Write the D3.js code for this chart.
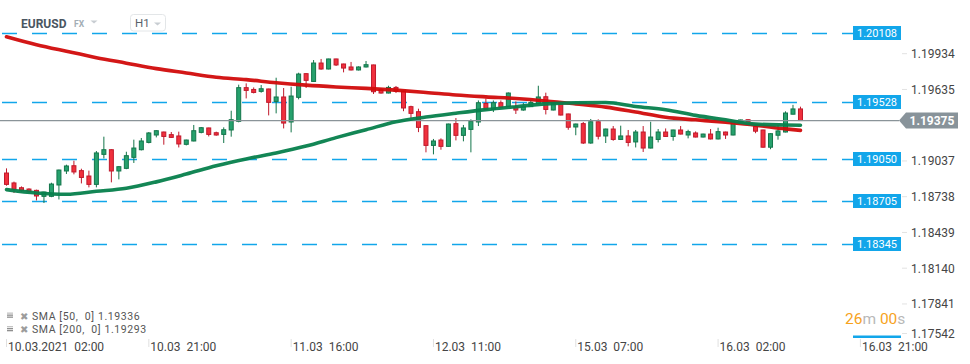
<!DOCTYPE html>
<html><head><meta charset="utf-8">
<script src="https://cdn.jsdelivr.net/npm/d3@7"></script>
<style>html,body{margin:0;padding:0;background:#fff;overflow:hidden}svg{display:block;font-family:Roboto,"Noto Sans",Arial,sans-serif}</style>
</head><body><svg id="c" width="970" height="364"></svg>
<script>
// ---- data (EURUSD H1) ----
const candleOpen = [1.18936,1.18853,1.18813,1.18802,1.18791,1.18741,1.18741,1.18836,1.18953,1.18997,
1.18956,1.18911,1.18841,1.19092,1.19131,1.18953,1.18975,1.19067,1.19131,1.19192,
1.19254,1.19279,1.19257,1.19246,1.19176,1.19204,1.19276,1.19313,1.19273,1.19259,
1.19296,1.19368,1.19650,1.19635,1.19619,1.19639,1.19535,1.19572,1.19363,1.19569,
1.19767,1.19702,1.19856,1.19806,1.19890,1.19848,1.19823,1.19798,1.19823,1.19840,
1.19635,1.19605,1.19652,1.19622,1.19491,1.19449,1.19332,1.19167,1.19212,1.19159,
1.19349,1.19251,1.19301,1.19363,1.19518,1.19468,1.19524,1.19493,1.19491,1.19463,
1.19491,1.19516,1.19574,1.19463,1.19527,1.19430,1.19321,1.19349,1.19187,1.19365,
1.19246,1.19304,1.19217,1.19246,1.19196,1.19279,1.19145,1.19217,1.19279,1.19242,
1.19296,1.19254,1.19271,1.19237,1.19262,1.19221,1.19279,1.19254,1.19368,1.19382,
1.19324,1.19296,1.19152,1.19252,1.19279,1.19428,1.19472];
const candleHigh = [1.18975,1.18864,1.18824,1.18808,1.18797,1.18780,1.18855,1.18964,1.19006,1.19039,
1.18972,1.18956,1.19120,1.19240,1.19135,1.18993,1.19114,1.19215,1.19229,1.19279,
1.19294,1.19282,1.19279,1.19282,1.19215,1.19338,1.19321,1.19315,1.19282,1.19318,
1.19457,1.19675,1.19686,1.19652,1.19672,1.19641,1.19733,1.19647,1.19658,1.19775,
1.19771,1.19881,1.19890,1.19892,1.19892,1.19850,1.19865,1.19828,1.19873,1.19842,
1.19647,1.19666,1.19664,1.19625,1.19499,1.19474,1.19336,1.19221,1.19226,1.19349,
1.19396,1.19338,1.19385,1.19543,1.19560,1.19543,1.19543,1.19610,1.19535,1.19522,
1.19547,1.19666,1.19608,1.19522,1.19530,1.19432,1.19349,1.19363,1.19388,1.19385,
1.19307,1.19329,1.19332,1.19296,1.19296,1.19329,1.19365,1.19304,1.19309,1.19298,
1.19329,1.19298,1.19284,1.19265,1.19304,1.19315,1.19282,1.19368,1.19382,1.19385,
1.19326,1.19298,1.19268,1.19336,1.19452,1.19506,1.19491];
const candleLow = [1.18830,1.18769,1.18780,1.18772,1.18707,1.18685,1.18734,1.18715,1.18928,1.18925,
1.18849,1.18816,1.18816,1.19058,1.18858,1.18883,1.18968,1.19020,1.19125,1.19184,
1.19234,1.19173,1.19229,1.19150,1.19167,1.19201,1.19268,1.19242,1.19248,1.19187,
1.19240,1.19360,1.19560,1.19602,1.19608,1.19418,1.19435,1.19309,1.19276,1.19552,
1.19647,1.19700,1.19800,1.19803,1.19831,1.19778,1.19794,1.19794,1.19819,1.19597,
1.19600,1.19602,1.19605,1.19453,1.19396,1.19278,1.19109,1.19092,1.19131,1.19156,
1.19209,1.19201,1.19109,1.19329,1.19463,1.19446,1.19482,1.19491,1.19430,1.19457,
1.19488,1.19513,1.19426,1.19460,1.19418,1.19298,1.19252,1.19179,1.19181,1.19217,
1.19187,1.19206,1.19212,1.19159,1.19150,1.19112,1.19142,1.19192,1.19240,1.19206,
1.19259,1.19226,1.19234,1.19234,1.19217,1.19217,1.19221,1.19251,1.19365,1.19363,
1.19269,1.19148,1.19135,1.19215,1.19276,1.19426,1.19371];
const candleClose = [1.18841,1.18799,1.18791,1.18780,1.18744,1.18777,1.18844,1.18961,1.18995,1.18945,
1.18899,1.18841,1.19104,1.19131,1.18953,1.18989,1.19081,1.19145,1.19204,1.19271,
1.19290,1.19242,1.19234,1.19179,1.19212,1.19290,1.19315,1.19259,1.19254,1.19298,
1.19382,1.19650,1.19627,1.19610,1.19641,1.19527,1.19572,1.19354,1.19580,1.19764,
1.19711,1.19856,1.19806,1.19890,1.19840,1.19814,1.19798,1.19823,1.19842,1.19616,
1.19605,1.19652,1.19619,1.19480,1.19435,1.19318,1.19167,1.19204,1.19159,1.19346,
1.19251,1.19313,1.19368,1.19524,1.19468,1.19524,1.19485,1.19605,1.19463,1.19491,
1.19527,1.19572,1.19468,1.19518,1.19421,1.19319,1.19346,1.19187,1.19365,1.19244,
1.19304,1.19217,1.19246,1.19192,1.19279,1.19145,1.19237,1.19279,1.19242,1.19296,
1.19262,1.19282,1.19237,1.19262,1.19221,1.19282,1.19254,1.19365,1.19380,1.19365,
1.19286,1.19152,1.19265,1.19288,1.19438,1.19472,1.19375];

const smaIndex = [0,4,8,12,16,20,24,28,32,36,40,44,48,52,56,60,64,68,72,76,80,84,88,92,96,100,104,106];
const sma200 = [1.20076,1.20009,1.19954,1.19901,1.19855,1.19809,1.19773,1.19737,1.19717,1.19691,1.19671,1.19656,1.19644,1.19629,1.19610,1.19589,1.19573,1.19559,1.19539,1.19514,1.19487,1.19446,1.19402,1.19381,1.19360,1.19336,1.19305,1.19293];
const sma50 = [1.18797,1.18769,1.18758,1.18783,1.18809,1.18862,1.18927,1.18996,1.19054,1.19104,1.19162,1.19232,1.19298,1.19365,1.19404,1.19436,1.19466,1.19491,1.19514,1.19524,1.19526,1.19492,1.19466,1.19418,1.19381,1.19345,1.19338,1.19336];

const levelValues = [1.20108,1.19528,1.19050,1.18705,1.18345];
const lastPrice = 1.19375;
const yTickValues = [1.19934,1.19635,1.19336,1.19037,1.18738,1.18439,1.18140,1.17841,1.17542];
const xTickIndex = [0,19,38,57,76,95,114];
const xTickLabels = ["10.03.2021  02:00","10.03  21:00","11.03  16:00","12.03  11:00","15.03  07:00","16.03  02:00","16.03  21:00"];
const legendLabels = ["SMA [50,  0] 1.19336","SMA [200,  0] 1.19293"];

// ---- drawing ----
const svg = d3.select("#c");
const x = d3.scaleLinear().domain([0,114]).range([6.5,860.4]);
const y = d3.scaleLinear().domain([1.19934,1.17542]).range([53.7,339.7]);
const BLUE = "#12a6ea";

// level lines
const lv = svg.append("g");
levelValues.forEach(v => {
  const yy = Math.round(y(v)) + 0.5;
  lv.append("line").attr("x1",2).attr("x2",853).attr("y1",yy).attr("y2",yy)
    .attr("stroke",BLUE).attr("stroke-width",1.3).attr("stroke-dasharray","15,15");
});

// candles
const candles = d3.range(candleOpen.length).map(i => ({i,o:candleOpen[i],h:candleHigh[i],l:candleLow[i],c:candleClose[i]}));
const cg = svg.append("g");
candles.forEach(d => {
  const up = d.c >= d.o;
  const stroke = up ? "#13754a" : "#c0192b";
  const fill = up ? "#26a16d" : "#f0303d";
  const cx = x(d.i);
  cg.append("line").attr("x1",cx).attr("x2",cx).attr("y1",y(d.h)).attr("y2",y(d.l)).attr("stroke",stroke).attr("stroke-width",1);
  const top = y(Math.max(d.o,d.c)), bot = y(Math.min(d.o,d.c));
  cg.append("rect").attr("x",cx-2).attr("width",4).attr("y",top).attr("height",Math.max(1,bot-top))
    .attr("fill",fill).attr("stroke",stroke).attr("stroke-width",1);
});

// current price line
svg.append("line").attr("x1",0).attr("x2",899).attr("y1",y(lastPrice)).attr("y2",y(lastPrice))
  .attr("stroke","#8a9499").attr("stroke-width",1.3);

// SMA lines
const line = d3.line().x((d,k)=>x(smaIndex[k])).y(d=>y(d)).curve(d3.curveMonotoneX);
svg.append("path").attr("d",line(sma200)).attr("fill","none").attr("stroke","#d10b0b").attr("stroke-width",3.6).attr("stroke-linecap","round").attr("opacity",0.95);
svg.append("path").attr("d",line(sma50)).attr("fill","none").attr("stroke","#06804c").attr("stroke-width",3.6).attr("stroke-linecap","round").attr("opacity",0.95);

// level labels
levelValues.forEach(v => {
  const yy = Math.round(y(v));
  svg.append("rect").attr("x",853).attr("y",yy-7).attr("width",48).attr("height",14).attr("fill",BLUE);
  svg.append("text").attr("x",877).attr("y",yy).attr("dy","0.36em").attr("text-anchor","middle")
    .attr("font-size",11).attr("fill","#fff").text(d3.format(".5f")(v));
});

// right axis (ticks hidden behind the price tag are not drawn)
const py = y(lastPrice);
const ra = svg.append("g");
yTickValues.forEach(v => {
  const yy = Math.min(y(v), 333.5);
  if (Math.abs(yy - py) < 12) return;
  ra.append("line").attr("x1",902).attr("x2",907).attr("y1",yy).attr("y2",yy).attr("stroke","#e2e2e2");
  ra.append("text").attr("x",911).attr("y",yy).attr("dy","0.36em").attr("font-size",12).attr("fill","#454545").text(d3.format(".5f")(v));
});

// current price tag
svg.append("path").attr("d",`M899,${py} L906,${py-8} L958,${py-8} L958,${py+8} L906,${py+8} Z`).attr("fill","#88939a");
svg.append("text").attr("x",932).attr("y",py).attr("dy","0.36em").attr("text-anchor","middle")
  .attr("font-size",12).attr("font-weight","bold").attr("fill","#fff").text(d3.format(".5f")(lastPrice));

// x axis
xTickIndex.forEach((ti,k) => {
  const xx = x(ti);
  svg.append("line").attr("x1",xx).attr("x2",xx).attr("y1",339).attr("y2",347).attr("stroke","#e0e0e0");
  svg.append("text").attr("x",xx+1.5).attr("y",350.5).attr("font-size",12).attr("fill","#454545")
    .style("white-space","pre").text(xTickLabels[k]);
});

// countdown
const cd = svg.append("text").attr("x",845).attr("y",324).attr("font-size",15.5);
cd.append("tspan").attr("fill","#f7a31c").text("26");
cd.append("tspan").attr("fill","#b8b8b8").text("m ");
cd.append("tspan").attr("fill","#f7a31c").text("00");
cd.append("tspan").attr("fill","#b8b8b8").text("s");
svg.append("rect").attr("x",853).attr("y",335.5).attr("width",48).attr("height",2.5).attr("fill",BLUE);

// legend
legendLabels.forEach((t,k) => {
  const yy = 316 + k*13.5;
  svg.append("rect").attr("x",7).attr("y",yy-3.5).attr("width",6).attr("height",1.3).attr("fill","#c4c4c4");
  [2,4].forEach(o => svg.append("rect").attr("x",7).attr("y",yy-3.5+o).attr("width",6).attr("height",1.3).attr("fill","#8f8f8f"));
  svg.append("text").attr("x",20).attr("y",yy+3.5).attr("font-size",10).attr("fill","#9c9c9c").text("✖");
  svg.append("text").attr("x",32).attr("y",yy+3.5).attr("font-size",10.5).attr("letter-spacing",0.6)
    .style("white-space","pre").attr("fill","#555").text(t);
});

// header
svg.append("text").attr("x",21).attr("y",27.5).attr("font-size",12).attr("font-weight","bold").attr("fill","#4a5661").text("EURUSD");
svg.append("text").attr("x",74).attr("y",27).attr("font-size",8.5).attr("font-weight","bold").attr("fill","#a3adb5").text("FX");
svg.append("path").attr("d","M90.5,20.5 L97.5,20.5 L94,23.5 Z").attr("fill","#c8cdd2");
svg.append("rect").attr("x",130.5).attr("y",14.5).attr("width",35).attr("height",16.5).attr("rx",3).attr("fill","#fff").attr("stroke","#e3e6e8");
svg.append("text").attr("x",135).attr("y",27.3).attr("font-size",11.5).attr("fill","#59626a").text("H1");
svg.append("path").attr("d","M154,22.5 L161,22.5 L157.5,25.5 Z").attr("fill","#c8cdd2");
</script></body></html>
